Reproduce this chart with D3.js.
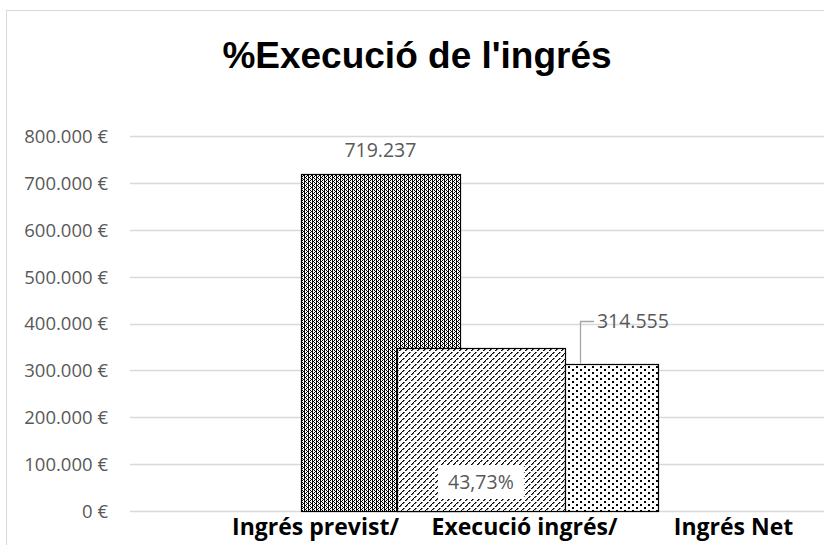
<!DOCTYPE html>
<html>
<head>
<meta charset="utf-8">
<script src="https://cdn.jsdelivr.net/npm/d3@7"></script>
<style>
  body { margin: 0; background: #fff; }
  svg { display: block; }
</style>
</head>
<body>
<div id="vis"></div>
<script>
// chart data
const title = "%Execució de l'ingrés";
const categories = ["Ingrés previst/", "Execució ingrés/", "Ingrés Net"];
const barNames = ["previst", "execucio", "net"];
const barValues = [719237, 348000, 314555];
const barLabels = ["719.237", "43,73%", "314.555"];
const yTicks = [0, 100000, 200000, 300000, 400000, 500000, 600000, 700000, 800000];

const width = 824;
const height = 545;

const svg = d3.select("#vis").append("svg")
  .attr("width", width)
  .attr("height", height);

// patterns, like the excel fills
const defs = svg.append("defs");

function pixelPattern(id, w, h, pts, pw) {
  const p = defs.append("pattern").attr("id", id)
    .attr("patternUnits", "userSpaceOnUse").attr("width", w).attr("height", h);
  p.append("rect").attr("width", w).attr("height", h).attr("fill", "#fff");
  pts.forEach(([px, py]) => {
    p.append("rect").attr("x", px).attr("y", py)
      .attr("width", pw || 1).attr("height", 1).attr("fill", "#000");
  });
}

// dense grid for the first bar
pixelPattern("pat1", 4, 4, [[0, 0], [0, 1], [0, 2], [0, 3], [2, 0], [2, 2], [1, 1], [3, 3]]);
// dashed upward diagonal for the second bar
pixelPattern("pat2", 6, 6, [[5, 0], [4, 1], [3, 2], [1, 4], [0, 5]], 1.6);
// sparse dots for the third bar
pixelPattern("pat3", 8, 6, [[0, 0], [1, 0], [0, 1], [1, 1], [4, 3], [5, 3], [4, 4], [5, 4]]);

const fills = { previst: "url(#pat1)", execucio: "url(#pat2)", net: "url(#pat3)" };

// chart frame (cut by the window on the right and bottom)
svg.append("rect")
  .attr("x", 6.5).attr("y", 10.5)
  .attr("width", 900).attr("height", 600)
  .attr("fill", "#fff").attr("stroke", "#d9d9d9");

svg.append("text")
  .attr("x", 417).attr("y", 68)
  .attr("text-anchor", "middle")
  .style("font-family", "'Liberation Sans', Arial, sans-serif")
  .style("font-weight", "bold")
  .style("font-size", "37px")
  .attr("fill", "#000")
  .text(title);

const plot = { left: 130, right: 824, top: 136, bottom: 511 };

const y = d3.scaleLinear().domain([0, 800000]).range([plot.bottom, plot.top]);

// category band used for the axis labels
const x = d3.scaleBand().domain(categories).range([211, 838]);

// bars overlap in the original, so they sit on a category-unit scale
const xu = d3.scaleLinear().domain([0, categories.length]).range([210, 840]);
const barSpans = [[0.433, 1.19], [0.89, 1.69], [1.69, 2.133]];

// gridlines
svg.append("g")
  .selectAll("line")
  .data(yTicks)
  .join("line")
  .attr("x1", plot.left).attr("x2", plot.right)
  .attr("y1", (d) => Math.round(y(d)) + 0.5)
  .attr("y2", (d) => Math.round(y(d)) + 0.5)
  .attr("stroke", "#d9d9d9")
  .attr("stroke-width", 1.3);

const fmt = d3.formatLocale({ decimal: ",", thousands: ".", grouping: [3], currency: ["", " €"] });
const euro = fmt.format("$,.0f");

const font = "'Open Sans', 'Noto Sans', sans-serif";

// y axis labels
const yAxis = d3.axisLeft(y).tickValues(yTicks).tickSize(0).tickPadding(0).tickFormat(euro);
const yg = svg.append("g").attr("transform", "translate(108,0)").call(yAxis);
yg.select(".domain").remove();
yg.selectAll("text")
  .attr("fill", "#595959")
  .attr("dy", "0.35em")
  .style("font-family", font)
  .style("font-size", "18.5px");

// bars
const bars = barNames.map((n, i) => ({ name: n, value: barValues[i], label: barLabels[i], span: barSpans[i] }));

svg.append("g")
  .selectAll("rect")
  .data(bars)
  .join("rect")
  .attr("x", (d) => Math.round(xu(d.span[0])) + 0.5)
  .attr("width", (d) => Math.round(xu(d.span[1]) - xu(d.span[0])))
  .attr("y", (d) => Math.round(y(d.value)) + 0.5)
  .attr("height", (d) => Math.round(y(0) - y(d.value)))
  .attr("fill", (d) => fills[d.name])
  .attr("stroke", "#000")
  .attr("stroke-width", 1.2);

const labelFont = (sel) => sel
  .style("font-family", font)
  .style("font-size", "19.5px")
  .attr("fill", "#595959");

// label above first bar
const b1 = bars[0];
svg.append("text")
  .attr("x", (xu(b1.span[0]) + xu(b1.span[1])) / 2)
  .attr("y", y(b1.value) - 17)
  .attr("text-anchor", "middle")
  .call(labelFont)
  .text(b1.label);

// percentage label inside the second bar with a white box
const b2 = bars[1];
const b2c = (xu(b2.span[0]) + xu(b2.span[1])) / 2;
svg.append("rect")
  .attr("x", b2c - 43).attr("y", y(0) - 46)
  .attr("width", 86).attr("height", 34)
  .attr("fill", "#fff");
svg.append("text")
  .attr("x", b2c)
  .attr("y", y(0) - 22)
  .attr("text-anchor", "middle")
  .call(labelFont)
  .text(b2.label);

// third label with leader line
const b3 = bars[2];
const lx = xu(b3.span[0]) + 15;
const ly = y(b3.value) - 43;
svg.append("path")
  .attr("d", `M${Math.round(lx) + 0.5},${y(b3.value)} V${Math.round(ly) + 0.5} H${Math.round(lx) + 14}`)
  .attr("fill", "none")
  .attr("stroke", "#a6a6a6")
  .attr("stroke-width", 1.3);
svg.append("text")
  .attr("x", lx + 17)
  .attr("y", ly + 7)
  .call(labelFont)
  .text(b3.label);

// category labels
svg.append("g")
  .selectAll("text")
  .data(categories)
  .join("text")
  .attr("x", (d) => x(d) + x.bandwidth() / 2)
  .attr("y", 535)
  .attr("text-anchor", "middle")
  .style("font-family", font)
  .style("font-weight", "bold")
  .style("font-size", "23px")
  .attr("fill", "#000")
  .text((d) => d);
</script>
</body>
</html>
